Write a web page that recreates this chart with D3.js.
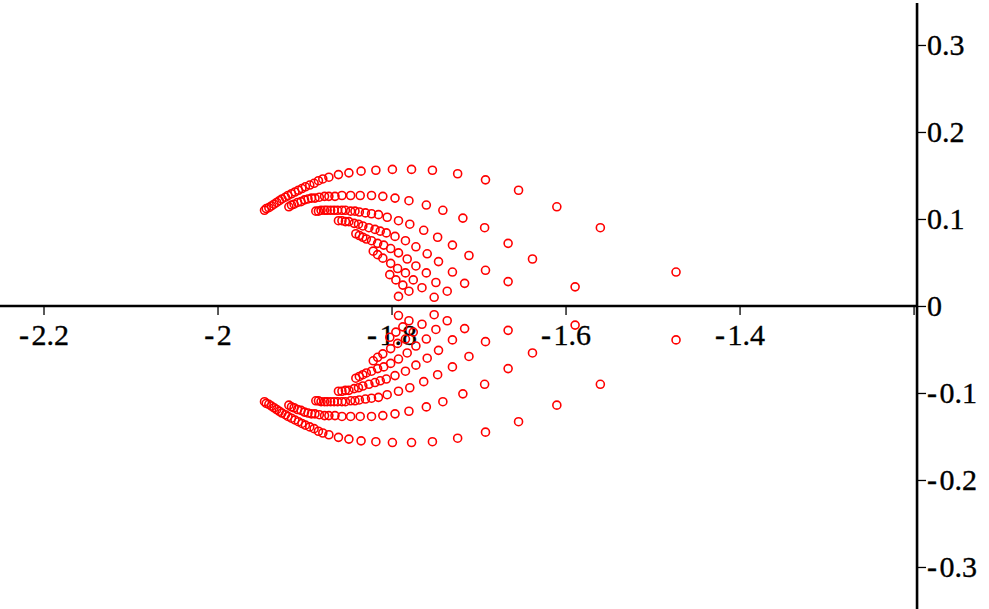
<!DOCTYPE html>
<html><head><meta charset="utf-8">
<script src="https://cdn.jsdelivr.net/npm/d3@7"></script>
<style>
html,body{margin:0;padding:0;background:#fff;}
svg{display:block;}
.axis text{font-family:"Liberation Serif","Times New Roman",serif;font-size:30px;fill:#000;stroke:#000;stroke-width:0.35px;}
</style></head><body>
<svg id="chart" width="989" height="609"></svg>
<script>
// Upper-half points of each arc (the plot also shows their complex conjugates)
const arcA_re = [-1.473,-1.560,-1.610,-1.654,-1.692,-1.724,-1.753,-1.777,-1.799,-1.818,-1.835,-1.849,-1.861,-1.872,-1.879,-1.884,-1.889,-1.894,-1.899,-1.903,-1.907,-1.911,-1.915,-1.919,-1.922,-1.926,-1.929,-1.932,-1.935,-1.938,-1.941,-1.944,-1.946];
const arcA_im = [0.039,0.090,0.114,0.133,0.145,0.152,0.156,0.157,0.157,0.156,0.155,0.153,0.151,0.148,0.146,0.144,0.141,0.139,0.137,0.135,0.133,0.131,0.129,0.127,0.125,0.123,0.121,0.119,0.117,0.115,0.113,0.112,0.110];
const arcB_re = [-1.589,-1.638,-1.666,-1.693,-1.718,-1.741,-1.760,-1.780,-1.796,-1.810,-1.823,-1.836,-1.847,-1.857,-1.865,-1.872,-1.877,-1.883,-1.888,-1.892,-1.896,-1.900,-1.904,-1.908,-1.912,-1.915,-1.918];
const arcB_im = [0.022,0.054,0.072,0.090,0.101,0.110,0.116,0.121,0.124,0.126,0.127,0.127,0.127,0.127,0.126,0.126,0.126,0.125,0.124,0.124,0.123,0.122,0.120,0.119,0.117,0.116,0.114];
const arcC_re = [-1.666,-1.692,-1.711,-1.730,-1.747,-1.763,-1.779,-1.792,-1.805,-1.815,-1.823,-1.830,-1.837,-1.842,-1.847,-1.853,-1.857,-1.862,-1.866,-1.870,-1.874,-1.877,-1.881,-1.884,-1.887];
const arcC_im = [0.028,0.041,0.058,0.070,0.079,0.087,0.094,0.098,0.102,0.105,0.106,0.107,0.108,0.109,0.109,0.110,0.110,0.110,0.110,0.110,0.110,0.110,0.110,0.109,0.109];
const arcD_re = [-1.716,-1.730,-1.746,-1.759,-1.772,-1.784,-1.796,-1.806,-1.813,-1.819,-1.826,-1.833,-1.838,-1.843,-1.849,-1.853,-1.857,-1.861];
const arcD_im = [0.026,0.039,0.051,0.060,0.068,0.075,0.080,0.084,0.086,0.088,0.090,0.092,0.094,0.095,0.097,0.097,0.098,0.098];
const arcE_re = [-1.736,-1.749,-1.760,-1.772,-1.782,-1.792,-1.801,-1.809,-1.816,-1.823,-1.829,-1.833,-1.837,-1.841];
const arcE_im = [0.017,0.027,0.038,0.046,0.054,0.061,0.066,0.070,0.072,0.075,0.077,0.079,0.081,0.083];
const arcF_re = [-1.751,-1.765,-1.775,-1.784,-1.793,-1.801,-1.810,-1.816,-1.821];
const arcF_im = [0.010,0.021,0.030,0.038,0.043,0.049,0.055,0.059,0.063];
const arcG_re = [-1.780,-1.787,-1.795,-1.802];
const arcG_im = [0.017,0.024,0.030,0.036];
const arcH_re = [-1.792];
const arcH_im = [0.011];

const xMajorTicks = [-2.2,-2,-1.8,-1.6,-1.4,-1.2];
const xMinorTicks = [-2.1,-1.9,-1.7,-1.5,-1.3];
const yMajorTicks = [-0.3,-0.2,-0.1,0,0.1,0.2,0.3];
const yMinorTicks = [-0.25,-0.15,-0.05,0.05,0.15,0.25];
const xDomain = [-2.25, -1.1133];
const yDomain = [-0.3483, 0.3517];
const yAxisAt = -1.196;

const W = 989, H = 609;
const svg = d3.select("#chart");
const x = d3.scaleLinear().domain(xDomain).range([0, W]);
const y = d3.scaleLinear().domain(yDomain).range([H, 0]);

const fmt = d => {
  if (d === 0) return "0";
  const s = d3.format("")(Math.abs(d));
  return (d < 0 ? "-\u200A" : "") + s;
};

// X axis (crosses at y = 0)
const gx = svg.append("g").attr("class","axis").attr("transform",`translate(0,${y(0)})`);
gx.call(d3.axisBottom(x).tickValues(xMinorTicks).tickSize(5).tickFormat(""));
gx.call(d3.axisBottom(x).tickValues(xMajorTicks).tickSize(9).tickPadding(9)
  .tickFormat(d => d === -1.2 ? "" : fmt(d)));
gx.selectAll(".domain").remove();
gx.selectAll("line").attr("stroke","#000").attr("stroke-width",1.3);

// Y axis
const gy = svg.append("g").attr("class","axis").attr("transform",`translate(${x(yAxisAt)},0)`);
gy.call(d3.axisRight(y).tickValues(yMinorTicks).tickSize(5).tickFormat(""));
gy.call(d3.axisRight(y).tickValues(yMajorTicks).tickSize(9).tickPadding(1).tickFormat(fmt));
gy.selectAll(".domain").remove();
gy.selectAll("line").attr("stroke","#000").attr("stroke-width",1.3);
gy.selectAll("text").attr("text-anchor","start");

// Axis lines
svg.append("line").attr("x1",0).attr("x2",x(yAxisAt)).attr("y1",y(0)).attr("y2",y(0))
  .attr("stroke","#000").attr("stroke-width",2.6);
svg.append("line").attr("x1",x(yAxisAt)).attr("x2",x(yAxisAt)).attr("y1",3).attr("y2",H)
  .attr("stroke","#000").attr("stroke-width",2.6);

// Points
const arcs = [[arcA_re,arcA_im],[arcB_re,arcB_im],[arcC_re,arcC_im],[arcD_re,arcD_im],
              [arcE_re,arcE_im],[arcF_re,arcF_im],[arcG_re,arcG_im],[arcH_re,arcH_im]];
const pts = [];
arcs.forEach(([re, im]) => re.forEach((r, i) => {
  pts.push({re: r, im: im[i]});
  pts.push({re: r, im: -im[i]});
}));
svg.append("g").selectAll("circle").data(pts).join("circle")
  .attr("cx", d => x(d.re)).attr("cy", d => y(d.im)).attr("r", 4)
  .attr("fill","none").attr("stroke","#ff0000").attr("stroke-width",1.6);
</script>
</body></html>
